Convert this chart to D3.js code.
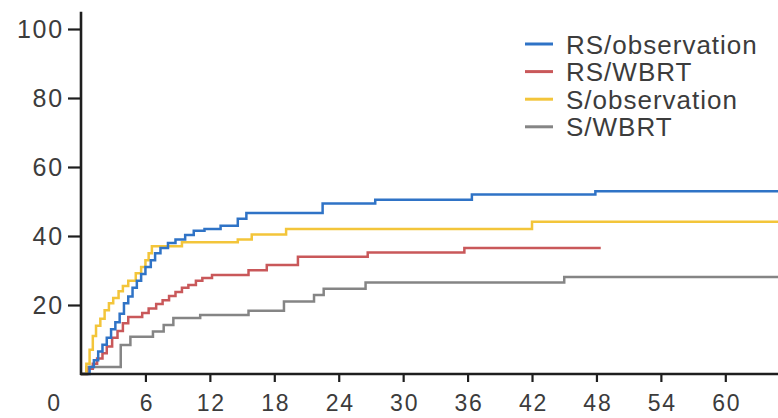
<!DOCTYPE html>
<html>
<head>
<meta charset="utf-8">
<script src="https://cdn.jsdelivr.net/npm/d3@7"></script>
<style>
  html, body { margin: 0; padding: 0; background: #fff; }
  svg { display: block; }
  text { font-family: "Liberation Sans", Arial, sans-serif; fill: #3c3c3c; }
</style>
</head>
<body>
<svg id="chart" width="778" height="418"></svg>
<script>
// Cumulative incidence (%) by month, as step points [month, percent]
const seriesNames = ["RS/observation", "RS/WBRT", "S/observation", "S/WBRT"];
const seriesColors = ["#2f73c6", "#c9585a", "#f3c53a", "#858585"];

const rsObservation = [
  [0, 0], [0.8, 2], [1.2, 4], [1.6, 6.5], [2.0, 8.5], [2.4, 10.5], [2.8, 13], [3.2, 15],
  [3.6, 17.5], [4.0, 20.5], [4.4, 22.5], [4.8, 25], [5.2, 27], [5.6, 29], [6.0, 31],
  [6.5, 33], [6.9, 35], [7.4, 36.5], [8.1, 38], [8.8, 39], [9.7, 40.3], [10.5, 41.5],
  [11.5, 42], [13.0, 43], [14.6, 45], [15.4, 46.7], [22.5, 49.4], [27.4, 50.5],
  [36.4, 52], [47.9, 53], [65, 53]
];
const rsWbrt = [
  [0, 0], [0.6, 1.5], [1.1, 3], [1.5, 4.5], [2.0, 6], [2.4, 8], [2.9, 10.5], [3.4, 12.5],
  [3.9, 14.7], [4.4, 16.5], [5.7, 17.7], [6.3, 19], [7.0, 20.3], [7.6, 21.4], [8.2, 22.6],
  [8.8, 23.8], [9.4, 25], [10.0, 25.8], [10.7, 27], [11.3, 27.8], [12.2, 28.7],
  [15.6, 30.1], [17.3, 31.6], [20.2, 34], [26.7, 35.2], [35.7, 36.5], [48.4, 36.5]
];
const sObservation = [
  [0, 0], [0.5, 3], [0.8, 7], [1.1, 11], [1.4, 14], [1.8, 16], [2.2, 18.5], [2.6, 20.5],
  [3.0, 22], [3.5, 24], [3.9, 25.5], [4.4, 27], [5.1, 29.2], [5.6, 31], [6.0, 33],
  [6.3, 35], [6.6, 37], [9.4, 38.2], [14.6, 39], [15.9, 40.4], [19.1, 42], [42.0, 44.1],
  [65, 44.1]
];
const sWbrt = [
  [0, 0], [0.5, 2], [3.7, 8.4], [4.6, 10.8], [6.7, 12.3], [7.7, 14.2], [8.6, 16.2],
  [11.1, 17.1], [15.6, 18.3], [18.9, 21], [21.7, 22.9], [22.6, 24.7], [26.5, 26.5],
  [45.0, 28.1], [65, 28.1]
];
const seriesValues = [rsObservation, rsWbrt, sObservation, sWbrt];

const xTicks = [0, 6, 12, 18, 24, 30, 36, 42, 48, 54, 60];
const yTicks = [20, 40, 60, 80, 100];

const svg = d3.select("#chart");

const x = d3.scaleLinear().domain([0, 65]).range([81, 779]);
const y = d3.scaleLinear().domain([0, 100]).range([374, 29]);

// Curves
const line = d3.line()
  .x(d => x(d[0]))
  .y(d => y(d[1]))
  .curve(d3.curveStepAfter);

const drawOrder = [3, 1, 2, 0];
svg.append("g")
  .selectAll("path")
  .data(drawOrder)
  .join("path")
  .attr("d", i => line(seriesValues[i]))
  .attr("fill", "none")
  .attr("stroke", i => seriesColors[i])
  .attr("stroke-width", 2.5)
  .attr("stroke-linejoin", "miter");

// Y axis
const yAxis = svg.append("g")
  .attr("transform", `translate(${x(0)},0)`)
  .call(d3.axisLeft(y).tickValues(yTicks).tickSize(13).tickPadding(4));
yAxis.select(".domain").remove();
yAxis.append("line")
  .attr("x1", 0).attr("x2", 0)
  .attr("y1", y(0) + 1).attr("y2", y(105))
  .attr("stroke", "#1e1e1e").attr("stroke-width", 2.6);

// X axis
const xAxis = svg.append("g")
  .attr("transform", `translate(0,${y(0)})`)
  .call(d3.axisBottom(x).tickValues(xTicks).tickSize(8).tickPadding(13));
xAxis.select(".domain").remove();
xAxis.append("line")
  .attr("x1", x(0) - 1).attr("x2", 778)
  .attr("y1", 0).attr("y2", 0)
  .attr("stroke", "#1e1e1e").attr("stroke-width", 2.6);
// The origin label sits to the left of the corner, without a tick mark
xAxis.selectAll(".tick").filter(d => d === 0)
  .call(t => t.select("line").remove())
  .select("text").attr("dx", -28);

svg.selectAll(".tick line").attr("stroke", "#1e1e1e").attr("stroke-width", 2.2);
svg.selectAll(".tick text")
  .style("font-family", "'Liberation Sans', Arial, sans-serif")
  .attr("fill", "#3c3c3c");
yAxis.selectAll(".tick text")
  .attr("font-size", 25)
  .attr("letter-spacing", 1.8);
// x labels: slightly smaller, kept centred despite the trailing letter spacing
xAxis.selectAll(".tick text")
  .attr("font-size", 23)
  .attr("letter-spacing", 1.8)
  .attr("x", 1);

// Legend
const legend = svg.append("g").attr("transform", "translate(525,44)");
const item = legend.selectAll("g")
  .data(seriesNames)
  .join("g")
  .attr("transform", (d, i) => `translate(0,${i * 27.6})`);
item.append("line")
  .attr("x1", 0).attr("x2", 28)
  .attr("y1", 0).attr("y2", 0)
  .attr("stroke", (d, i) => seriesColors[i])
  .attr("stroke-width", 3);
item.append("text")
  .attr("x", 41)
  .attr("y", 9.5)
  .attr("font-size", 26)
  .attr("letter-spacing", 1)
  .text(d => d);
</script>
</body>
</html>
